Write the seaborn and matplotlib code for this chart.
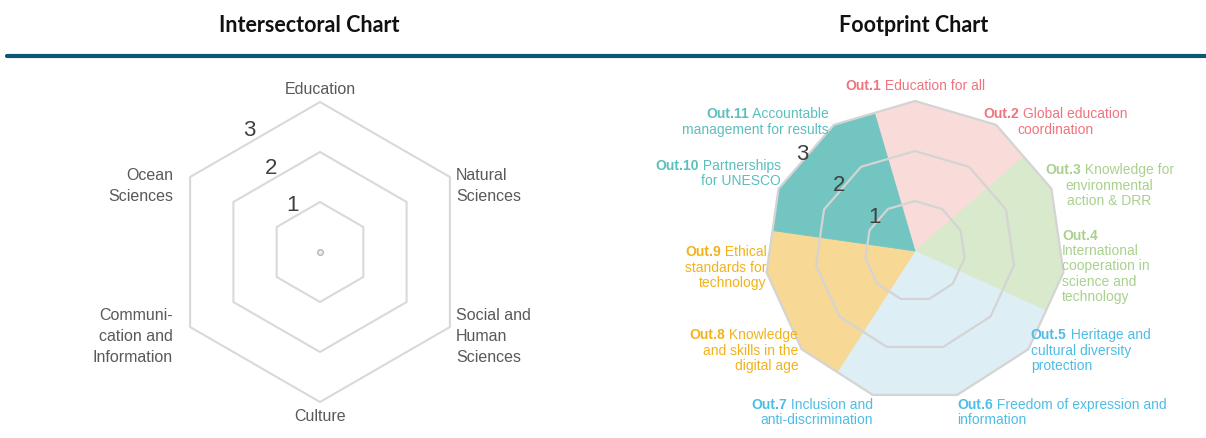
import numpy as np
import seaborn as sns
import matplotlib.pyplot as plt
from matplotlib.lines import Line2D
from matplotlib.offsetbox import TextArea, HPacker, VPacker, AnnotationBbox

# ---- data ----
sectors = ["Education", "Natural\nSciences", "Social and\nHuman\nSciences", "Culture",
           "Communi-\ncation and\nInformation", "Ocean\nSciences"]
sector_values = [0, 0, 0, 0, 0, 0]

outcome_codes = ["Out.1", "Out.2", "Out.3", "Out.4", "Out.5", "Out.6",
                 "Out.7", "Out.8", "Out.9", "Out.10", "Out.11"]
outcome_names = ["Education for all",
                 "Global education\ncoordination",
                 "Knowledge for\nenvironmental\naction & DRR",
                 "\nInternational\ncooperation in\nscience and\ntechnology",
                 "Heritage and\ncultural diversity\nprotection",
                 "Freedom of expression and\ninformation",
                 "Inclusion and\nanti-discrimination",
                 "Knowledge\nand skills in the\ndigital age",
                 "Ethical\nstandards for\ntechnology",
                 "Partnerships\nfor UNESCO",
                 "Accountable\nmanagement for results"]
outcome_values = [3, 3, 3, 3, 3, 3, 3, 3, 3, 3, 3]
outcome_group = ["edu", "edu", "sci", "sci", "cult", "cult", "cult",
                 "dig", "dig", "corp", "corp"]
ring_ticks = [1, 2, 3]

# ---- style ----
fill_colors = {"edu": "#F9DCD9", "sci": "#D9E9CB", "cult": "#DDEEF5",
               "dig": "#F7D895", "corp": "#73C5C2"}
text_colors = {"edu": "#F0737E", "sci": "#A9D18E", "cult": "#4EBDE5",
               "dig": "#F2B21B", "corp": "#5BBFBC"}
# small hand nudges for the outcome labels (x, y in ring units)
label_nudge = [(0, 0.32), (-0.26, 0.08), (-0.13, 0.08), (-0.03, 0.14), (0.05, -0.01),
               (0, -0.33), (0, -0.33), (-0.07, -0.01), (0, 0.11), (0.05, 0.32), (-0.1, 0.08)]

sns.set_theme(style="white")
plt.rcParams['font.family'] = ['Liberation Sans', 'DejaVu Sans']

W, H, PX = 1206, 439, 50.0
fig = plt.figure(figsize=(W / 100, H / 100), dpi=100)


def make_axes(cx, cy, x0, x1, y0, y1):
    ax = fig.add_axes([x0 / W, 1 - y1 / H, (x1 - x0) / W, (y1 - y0) / H])
    ax.set_xlim((x0 - cx) / PX, (x1 - cx) / PX)
    ax.set_ylim((cy - y1) / PX, (cy - y0) / PX)
    ax.axis('off')
    return ax


# header
fig.text(309.5 / W, 1 - 26 / H, "Intersectoral Chart", ha='center', va='center',
         fontsize=15.5, fontweight='bold', family='Lato', color='#111111')
fig.text(914 / W, 1 - 26 / H, "Footprint Chart", ha='center', va='center',
         fontsize=15.5, fontweight='bold', family='Lato', color='#111111')
fig.add_artist(Line2D([7 / W, 1], [1 - 57 / H] * 2, color='#0B5575', lw=3))

# ---- left: intersectoral radar ----
ax1 = make_axes(320, 253, 0, 610, 62, 439)
n = len(sectors)
ang = np.arange(n + 1) * 2 * np.pi / n
for r in ring_ticks:
    ax1.plot(r * np.sin(ang), r * np.cos(ang), color='#D9D9D9', lw=1.5, zorder=1)
for r in ring_ticks:
    a = -np.pi / 6
    rr = r * np.cos(np.pi / n) + 0.22
    ax1.text(rr * np.sin(a), rr * np.cos(a), str(r), ha='center', va='center',
             fontsize=16, color='#404040')
vals = np.array(sector_values, dtype=float)
sns.scatterplot(x=vals * np.sin(ang[:-1]), y=vals * np.cos(ang[:-1]), ax=ax1, s=14,
                color='#EEEEEE', edgecolor='#BBBBBB', linewidth=0.8, zorder=3, legend=False)
for i, lab in enumerate(sectors):
    a = ang[i]
    sx, cx_ = np.sin(a), np.cos(a)
    if abs(sx) < 0.1:
        x, y, ha = 0, np.sign(cx_) * 3.27, 'center'
    else:
        x = 3 * sx + (0.12 if sx > 0 else -0.34)
        y = 3 * cx_ - 0.17
        ha = 'left' if sx > 0 else 'right'
    ax1.text(x, y, lab, ha=ha, va='center', multialignment=ha,
             fontsize=11.5, color='#595959', linespacing=1.5)

# ---- right: footprint chart ----
ax2 = make_axes(915, 252, 610, 1206, 62, 439)
m = len(outcome_codes)
step = 2 * np.pi / m
half = step / 2
for i, (v, g) in enumerate(zip(outcome_values, outcome_group)):
    th = i * step
    a3 = [th - half, th, th + half]
    r3 = [v * np.cos(half), v, v * np.cos(half)]
    xs = [0] + [r * np.sin(a) for r, a in zip(r3, a3)]
    ys = [0] + [r * np.cos(a) for r, a in zip(r3, a3)]
    ax2.fill(xs, ys, facecolor=fill_colors[g], edgecolor=fill_colors[g], lw=0.6, zorder=1)
angm = np.arange(m + 1) * step
for r in ring_ticks:
    ax2.plot(r * np.sin(angm), r * np.cos(angm), color='#D4D4D4', lw=1.6, zorder=2)
for r in ring_ticks:
    a = -1.5 * step
    rr = r * np.cos(half) + 0.1
    ax2.text(rr * np.sin(a), rr * np.cos(a), str(r), ha='center', va='center',
             fontsize=16, color='#404040', zorder=3)

for i, (code, name, g) in enumerate(zip(outcome_codes, outcome_names, outcome_group)):
    th = i * step
    vx, vy = 3 * np.sin(th), 3 * np.cos(th)
    dx, dy = label_nudge[i]
    if abs(vx) < 0.05:
        ha = 'center'
    else:
        ha = 'left' if vx > 0 else 'right'
    malign = 'center' if i in (1, 2) else ha
    props = dict(fontsize=10, color=text_colors[g])
    lines = name.split("\n")
    head = [TextArea(code, textprops=dict(props, fontweight='bold'))]
    if lines[0]:
        head.append(TextArea(" " + lines[0], textprops=props))
    rows = [HPacker(children=head, pad=0, sep=0)]
    rows += [TextArea(ln, textprops=props) for ln in lines[1:]]
    block = VPacker(children=rows, align=malign, pad=0, sep=1.0)
    bx = {'left': 0, 'right': 1, 'center': 0.5}[ha]
    ax2.add_artist(AnnotationBbox(block, (vx + dx, vy + dy), xycoords='data',
                                  box_alignment=(bx, 0.5), frameon=False, pad=0,
                                  annotation_clip=False))

fig.savefig("out.png", dpi=100)
